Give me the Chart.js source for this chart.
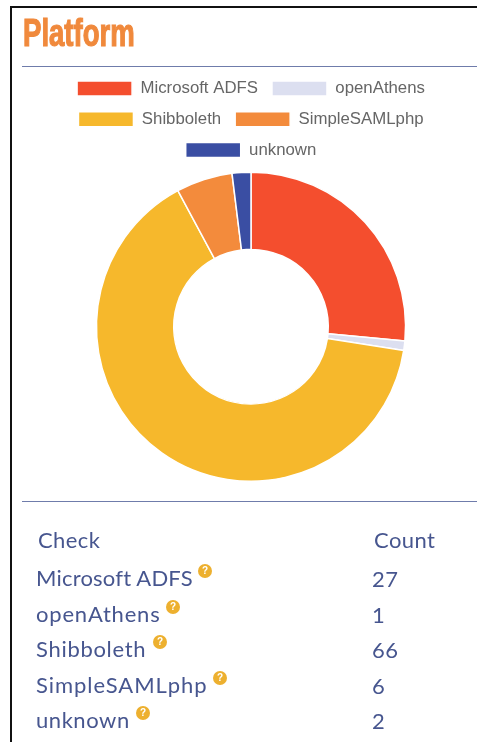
<!DOCTYPE html>
<html><head><meta charset="utf-8">
<script src="https://cdn.jsdelivr.net/npm/chart.js@4"></script>
<style>
html,body{margin:0;padding:0;width:477px;height:742px;overflow:hidden;background:#fff}
#page{position:absolute;left:0;top:0;width:477px;height:742px;overflow:hidden;filter:blur(.4px)}
#frame{position:absolute;left:10px;top:6px;width:480px;height:760px;border:2px solid #111;box-sizing:border-box}
#title{position:absolute;left:23px;top:11px;font:bold 38px "Liberation Sans",sans-serif;color:#f0893c;-webkit-text-stroke:1.2px #f0893c;transform:scaleX(.725);transform-origin:0 0;white-space:nowrap;line-height:44px}
.rule{position:absolute;left:22px;width:455px;height:1px;background:#6f7cab}
#wrap{position:absolute;left:22px;top:66px;width:458px;height:424px}
.c{position:absolute;font:22px Lato,sans-serif;letter-spacing:.4px;color:#47568f;white-space:nowrap;line-height:26px}
.q{display:inline-block;position:absolute;width:14px;height:14px;border-radius:50%;background:#edb02f;color:#fff;font:bold 10px/14px "Liberation Sans",sans-serif;text-align:center}
</style></head><body>
<div id="page">
<div id="frame"></div>
<div id="title">Platform</div>
<div class="rule" style="top:66px"></div>
<div id="wrap"><canvas id="chart"></canvas></div>
<div class="rule" style="top:501px"></div>
<div id="table"></div>
</div>
<script>
const categories=["Microsoft ADFS","openAthens","Shibboleth","SimpleSAMLphp","unknown"];
const counts=[27,1,66,6,2];
const colors=["#f44e2e","#dcdff0","#f6b82c","#f38b3c","#3a4ea3"];
const headers=["Check","Count"];
Chart.defaults.animation=false;
const legendGap={id:"legendGap",beforeInit(chart){const fit=chart.legend.fit;chart.legend.fit=function(){fit.call(this);this.height+=3;}}};
new Chart(document.getElementById("chart"),{
  type:"doughnut",
  plugins:[legendGap],
  data:{labels:categories,datasets:[{data:counts,backgroundColor:colors,borderColor:"#fff",borderWidth:1.5}]},
  options:{responsive:true,maintainAspectRatio:false,cutout:"50%",
    layout:{padding:{bottom:8}},
    plugins:{tooltip:{enabled:false},
      legend:{position:"top",labels:{boxWidth:55,boxHeight:15,padding:14,color:"#666",font:{family:"Liberation Sans",size:16.8}}}}}
});
const t=document.getElementById("table");
function add(cls,x,y,txt,ls){const d=document.createElement("div");d.className=cls;d.style.left=x+"px";d.style.top=y+"px";d.textContent=txt;if(ls!==undefined)d.style.letterSpacing=ls+"px";t.appendChild(d);return d}
add("c",38,527,headers[0]);add("c",374,527,headers[1]);
const rowY=[565,601,636,672,707];
const iconX=[198,166,153,213,136];
const spacing=[.2,.8,.7,.95,.55];
categories.forEach((n,i)=>{
  add("c",36,rowY[i],n,spacing[i]);
  add("c",372,rowY[i]+1,String(counts[i]));
  add("q",iconX[i],rowY[i]-1,"?");
});
</script>
</body></html>
